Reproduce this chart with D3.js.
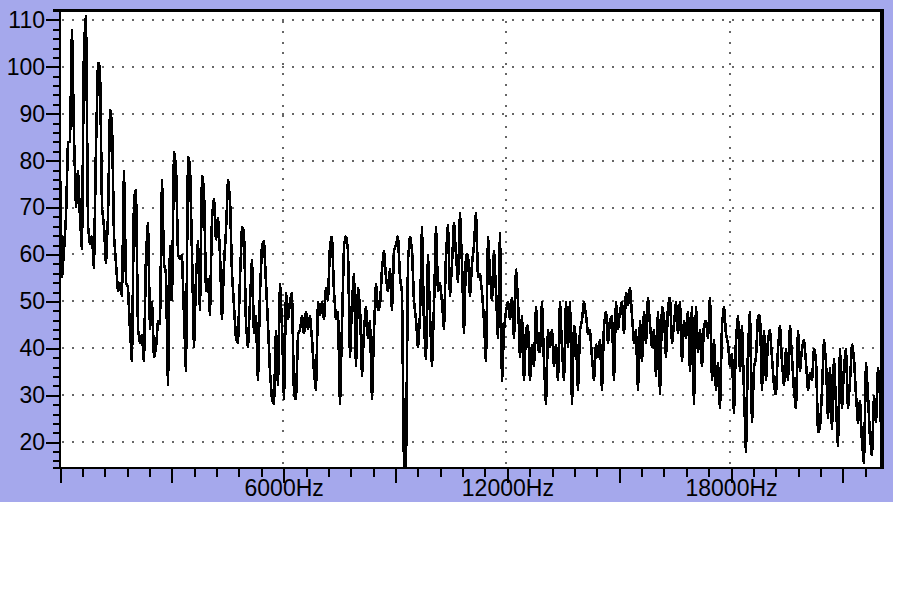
<!DOCTYPE html>
<html><head><meta charset="utf-8">
<script src="https://cdn.jsdelivr.net/npm/d3@7"></script>
<style>html,body{margin:0;padding:0;background:#fff}svg{display:block}</style>
</head><body><svg id="c" width="900" height="603"></svg>
<script>
const levels = [
78,55,61,68,84,84,108,85,70,78,68,61,105,111,66,62,64,57,83,101,
100,70,66,58,68,91,88,64,58,52,54,51,78,54,53,44,37,72,74,44,
41,43,37,60,67,44,50,38,40,46,45,76,58,56,32,62,50,82,79,60,
59,60,47,35,81,79,60,40,55,63,48,77,74,52,55,47,68,72,63,68,
60,46,58,65,76,72,56,49,42,41,55,66,65,45,40,50,59,43,47,33,
52,62,63,54,45,35,29,28,44,32,54,45,29,52,46,50,52,30,29,43,
44,47,43,48,44,47,42,35,31,50,47,50,46,53,50,62,64,52,46,48,
28,45,62,64,61,38,50,56,36,53,49,34,44,49,42,46,29,44,54,48,
49,57,61,55,52,57,48,61,62,64,55,52,14.5,14.5,59,64,61,50,46,40,
47,66,45,37.5,60,47,36,49,66,52,54,50,44,60,66.5,51,58,67,60,54,
69,58,43,60,60,51,58,62,69,55,56,52,46,37,64,56,50,61,52,42,
64.7,32.8,44,48,50,46,51,42,57,50,38,47,33,44,45,33,41,36,49,40,
39,50,37,28,44,40,44,36,41,33,50,40,33,50,40,50,28,45,42,31,
44,46,50,47,43,44,38,33,41,38,
42,31,45,48,41,46,47,33,50,44,48,50,43,52,49,53,47,41,44,31,
46,37,48,41,51,45,40,44,34,48,30,49,47,38,49,51,41,45,50,43,
50,37,46,42,48,35,49,28,49,39,44,36,45,46,42,51,33,42,31,37,
27,45,49,43,41,36,39,26,42,47,35,45,31,17.6,40,48,24,36,38,47,
47,31,44,33,42,44,38,32,30,40,45,37,32,40,33,45,38,31,27,44,
35,40,42,37,31,35,33,40,38,22,23,31,42,37,25,36,22.7,38,28,19,
40,27,36,40,27,33,41,38,30,24,29,20,15.4,37,30,21,17,30,24,36,30,16
];
const maxHz = 22050;
const yLabels = [20,30,40,50,60,70,80,90,100,110];
const yMinor = [16,18,22,24,26,28,32,34,36,38,42,44,46,48,52,54,56,58,62,64,66,68,72,74,76,78,82,84,86,88,92,94,96,98,102,104,106,108];
const xLabelled = [6000,12000,18000];
const xMajor = [0,3000,6000,9000,12000,15000,18000,21000];
const xMinor = [600,1200,1800,2400,3600,4200,4800,5400,6600,7200,7800,8400,9600,10200,10800,11400,12600,13200,13800,14400,15600,16200,16800,17400,18600,19200,19800,20400,21600];

const BLUE="#a5a8ec", INK="#000", GRID="#666";
const L=60,R=882,T=10,B=468;
const svg=d3.select("#c");
const x=d3.scaleLinear().domain([0,maxHz]).range([L,R]);
const y=d3.scaleLinear().domain([14.5,112.1]).range([B,T]);

svg.append("rect").attr("width",893).attr("height",502).attr("fill",BLUE);
svg.append("rect").attr("x",L).attr("y",T).attr("width",R-L).attr("height",B-T).attr("fill","#fff");

const g=svg.append("g").attr("shape-rendering","crispEdges");
g.selectAll("line.h").data(yLabels).join("line").attr("class","h")
 .attr("x1",L+2).attr("x2",R).attr("y1",d=>Math.round(y(d))).attr("y2",d=>Math.round(y(d)))
 .attr("stroke",GRID).attr("stroke-width",2).attr("stroke-dasharray","2 8");
g.selectAll("line.v").data(xLabelled).join("line").attr("class","v")
 .attr("x1",d=>Math.round(x(d))-1).attr("x2",d=>Math.round(x(d))-1).attr("y1",T).attr("y2",B)
 .attr("stroke",GRID).attr("stroke-width",2).attr("stroke-dasharray","2 8.5");

const step=maxHz/(levels.length-1);
const line=d3.line().x((d,i)=>x(i*step)).y(d=>y(d));
svg.append("path").datum(levels).attr("d",line).attr("fill","none")
 .attr("stroke",INK).attr("stroke-width",2.6).attr("stroke-linejoin","bevel").attr("shape-rendering","crispEdges");

function style(a){
  a.attr("shape-rendering","crispEdges");
  a.selectAll("path").remove();
  a.selectAll("line").attr("stroke",INK).attr("stroke-width",2);
  a.selectAll("text").attr("fill",INK).attr("font-family","'Liberation Sans',Arial,sans-serif").attr("font-size",23);
}
const nofmt=()=>"";
style(svg.append("g").attr("transform",`translate(${L},0)`).call(d3.axisLeft(y).tickValues(yMinor).tickSize(7).tickFormat(nofmt)));
style(svg.append("g").attr("transform",`translate(${L},0)`).call(d3.axisLeft(y).tickValues(yLabels).tickSize(14).tickPadding(1)));
style(svg.append("g").attr("transform",`translate(0,${B})`).call(d3.axisBottom(x).tickValues(xMinor).tickSize(9).tickFormat(nofmt)));
style(svg.append("g").attr("transform",`translate(0,${B})`).call(d3.axisBottom(x).tickValues(xMajor).tickSize(15).tickFormat(nofmt)));
style(svg.append("g").attr("transform",`translate(0,${B})`).call(d3.axisBottom(x).tickValues(xLabelled).tickSize(9).tickPadding(3).tickFormat(d=>d+"Hz")));

const frame=svg.append("g").attr("shape-rendering","crispEdges");
frame.append("rect").attr("x",53).attr("y",9).attr("width",R+2-53).attr("height",2.5).attr("fill",INK);
frame.append("rect").attr("x",53).attr("y",467).attr("width",R-53).attr("height",2).attr("fill",INK);
frame.append("rect").attr("x",L-1).attr("y",T).attr("width",2).attr("height",B-T).attr("fill",INK);
frame.append("rect").attr("x",R-2).attr("y",T).attr("width",4).attr("height",B-T+1).attr("fill",INK);
</script></body></html>
